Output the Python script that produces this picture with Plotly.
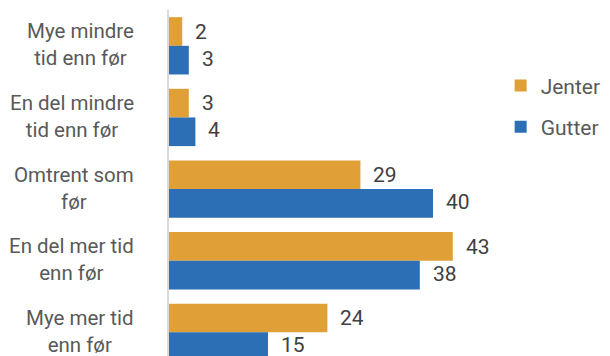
import plotly.graph_objects as go

categories = ["Mye mindre<br>tid enn før", "En del mindre<br>tid enn før", "Omtrent som<br>før",
              "En del mer tid<br>enn før", "Mye mer tid<br>enn før"]
jenter = [2, 3, 29, 43, 24]
gutter = [3, 4, 40, 38, 15]

ORANGE = "#E09F37"
BLUE = "#2C6FB4"
FONT = "Roboto"

fig = go.Figure()
fig.add_trace(go.Bar(y=categories, x=jenter, orientation="h", name="Jenter",
                     marker=dict(color=ORANGE, line=dict(width=0)), legendgroup="j"))
fig.add_trace(go.Bar(y=categories, x=gutter, orientation="h", name="Gutter",
                     marker=dict(color=BLUE, line=dict(width=0)), legendgroup="g"))

ann = []
for i, c in enumerate(categories):
    ann.append(dict(x=0, xref="paper", y=c, yref="y", text=c, showarrow=False,
                    xanchor="right", align="center", xshift=-33, yshift=1,
                    font=dict(family=FONT, size=20.5, color="#595959")))
    ann.append(dict(x=jenter[i], y=c, xref="x", yref="y", text=str(jenter[i]), showarrow=False,
                    xanchor="left", xshift=11, yshift=14,
                    font=dict(family=FONT, size=21, color="#404040")))
    ann.append(dict(x=gutter[i], y=c, xref="x", yref="y", text=str(gutter[i]), showarrow=False,
                    xanchor="left", xshift=11, yshift=-13,
                    font=dict(family=FONT, size=21, color="#404040")))

fig.update_layout(
    width=610, height=356,
    margin=dict(l=169, r=111, t=10, b=0),
    paper_bgcolor="white", plot_bgcolor="white",
    barmode="group", bargap=0.2, bargroupgap=0,
    font=dict(family=FONT, size=21, color="#595959"),
    annotations=ann,
    showlegend=True,
    legend=dict(x=1.005, y=0.84, xanchor="left", yanchor="top", traceorder="grouped",
                tracegroupgap=11, font=dict(family=FONT, size=21, color="#595959"),
                itemwidth=30, bgcolor="rgba(0,0,0,0)"),
    xaxis=dict(range=[0, 50], visible=False, showgrid=False, zeroline=False),
    yaxis=dict(type="category", categoryorder="array", categoryarray=categories,
               range=[4.33, -0.5], showticklabels=False, showgrid=False, zeroline=False,
               showline=True, linecolor="#d9d9d9", linewidth=2, ticks=""),
)

fig.write_html("out.html")
